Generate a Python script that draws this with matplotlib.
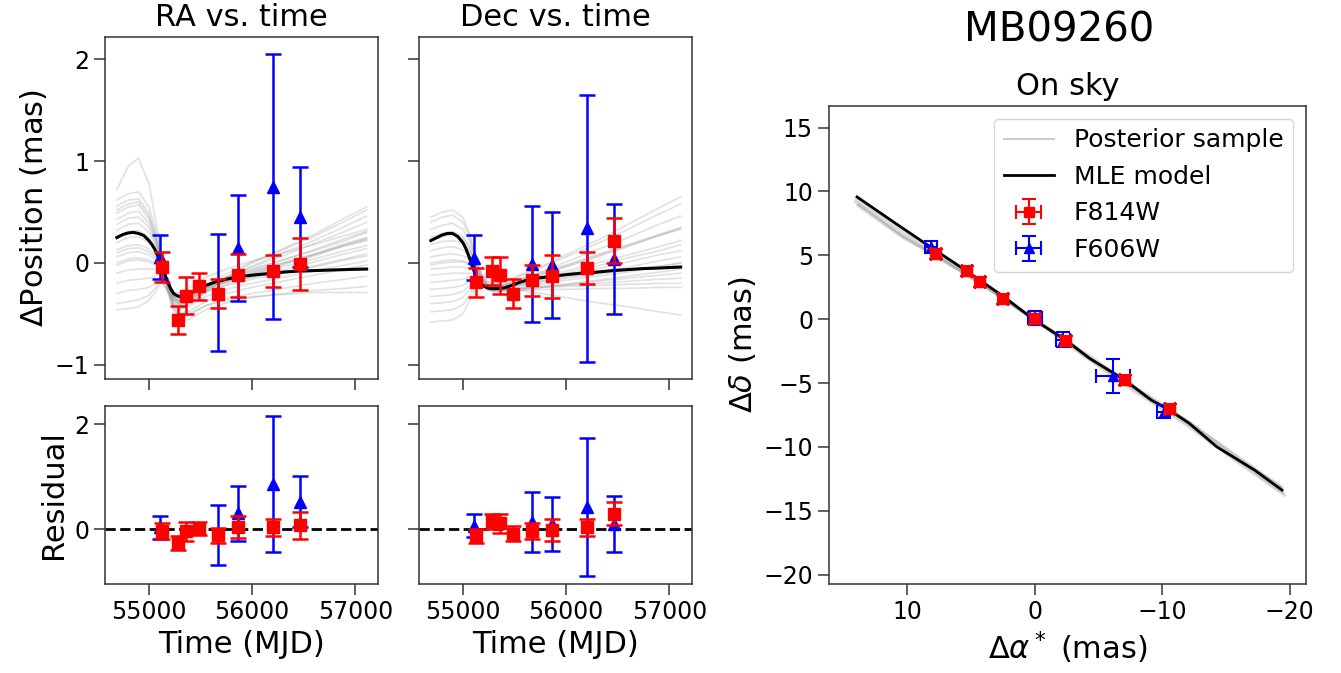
import matplotlib
matplotlib.use("Agg")
import matplotlib.pyplot as plt
from matplotlib.lines import Line2D

# ---------------- data ----------------
# epochs (MJD)
t_f814w = [55126, 55280, 55361, 55488, 55671, 55860, 56198, 56464]
t_f606w = [55105, 55671, 55860, 56198, 56464]

# RA offsets (mas) vs time
ra_f814w = [-0.04, -0.56, -0.32, -0.23, -0.30, -0.12, -0.08, -0.01]
ra_f814w_err = [0.15, 0.14, 0.18, 0.13, 0.14, 0.21, 0.155, 0.255]
ra_f606w = [0.06, -0.29, 0.15, 0.75, 0.45]
ra_f606w_err = [0.215, 0.57, 0.52, 1.30, 0.49]

# Dec offsets (mas) vs time
dec_f814w = [-0.19, -0.08, -0.12, -0.30, -0.17, -0.13, -0.05, 0.22]
dec_f814w_err = [0.14, 0.14, 0.18, 0.14, 0.15, 0.21, 0.155, 0.22]
dec_f606w = [0.05, -0.01, -0.02, 0.34, 0.04]
dec_f606w_err = [0.22, 0.57, 0.52, 1.31, 0.54]

# residuals (mas)
ra_res_f814w = [-0.04, -0.27, -0.04, 0.01, -0.12, 0.03, 0.03, 0.07]
ra_res_f606w = [0.03, -0.11, 0.30, 0.86, 0.52]
dec_res_f814w = [-0.13, 0.15, 0.11, -0.09, -0.04, -0.01, 0.03, 0.29]
dec_res_f606w = [0.06, 0.13, 0.10, 0.42, 0.10]

# MLE model curves vs time
t_model = [54690, 54750, 54800, 54850, 54900, 54950, 55000, 55030, 55060, 55090,
           55120, 55150, 55180, 55210, 55240, 55270, 55300, 55350, 55400, 55475,
           55550, 55650, 55750, 55875, 56000, 56150, 56300, 56450, 56600, 56750,
           56900, 57000, 57110]
ra_model = [0.25, 0.28, 0.295, 0.30, 0.29, 0.27, 0.22, 0.18, 0.13, 0.06,
            -0.01, -0.10, -0.18, -0.25, -0.30, -0.32, -0.33, -0.32, -0.30, -0.26,
            -0.22, -0.185, -0.16, -0.135, -0.12, -0.105, -0.09, -0.08, -0.075, -0.07,
            -0.065, -0.062, -0.06]
dec_model = [0.22, 0.25, 0.275, 0.29, 0.29, 0.26, 0.20, 0.14, 0.06, -0.03,
             -0.11, -0.17, -0.21, -0.23, -0.245, -0.25, -0.25, -0.25, -0.245, -0.22,
             -0.19, -0.16, -0.145, -0.13, -0.115, -0.10, -0.09, -0.075, -0.065, -0.055,
             -0.05, -0.045, -0.04]

# posterior samples vs time
t_samp = [54690, 54800, 54900, 55000, 55060, 55120, 55180, 55240, 55300, 55400,
          55550, 55750, 56000, 56300, 56600, 56900, 57110]
ra_samples = [
    [0.72, 0.95, 1.03, 0.78, 0.45, 0.08, -0.18, -0.28, -0.30, -0.24, -0.14, -0.06, 0.02, 0.10, 0.18, 0.27, 0.33],
    [0.62, 0.68, 0.70, 0.55, 0.35, 0.05, -0.24, -0.40, -0.44, -0.38, -0.26, -0.14, 0.00, 0.13, 0.26, 0.41, 0.52],
    [0.56, 0.62, 0.63, 0.49, 0.30, 0.03, -0.25, -0.42, -0.46, -0.40, -0.28, -0.16, -0.03, 0.10, 0.22, 0.36, 0.46],
    [0.49, 0.55, 0.57, 0.43, 0.26, 0.02, -0.22, -0.37, -0.41, -0.35, -0.24, -0.14, -0.04, 0.07, 0.19, 0.31, 0.40],
    [0.43, 0.49, 0.51, 0.39, 0.24, 0.02, -0.21, -0.35, -0.39, -0.33, -0.22, -0.11, 0.01, 0.14, 0.28, 0.44, 0.55],
    [0.38, 0.44, 0.45, 0.35, 0.21, 0.01, -0.20, -0.33, -0.37, -0.32, -0.23, -0.15, -0.07, 0.03, 0.13, 0.24, 0.31],
    [0.32, 0.38, 0.39, 0.30, 0.18, 0.00, -0.21, -0.35, -0.39, -0.34, -0.25, -0.17, -0.09, 0.00, 0.09, 0.19, 0.25],
    [0.26, 0.31, 0.32, 0.25, 0.15, 0.00, -0.18, -0.30, -0.34, -0.30, -0.22, -0.15, -0.08, 0.00, 0.08, 0.17, 0.22],
    [0.20, 0.25, 0.26, 0.20, 0.12, -0.01, -0.19, -0.33, -0.38, -0.34, -0.26, -0.18, -0.10, -0.01, 0.08, 0.18, 0.24],
    [0.13, 0.17, 0.18, 0.14, 0.08, -0.02, -0.18, -0.31, -0.36, -0.32, -0.24, -0.17, -0.11, -0.04, 0.04, 0.12, 0.17],
    [0.06, 0.10, 0.11, 0.08, 0.04, -0.03, -0.17, -0.29, -0.34, -0.31, -0.24, -0.19, -0.14, -0.09, -0.03, 0.04, 0.09],
    [-0.02, 0.02, 0.03, 0.01, -0.02, -0.06, -0.20, -0.35, -0.41, -0.38, -0.29, -0.21, -0.14, -0.07, 0.01, 0.09, 0.14],
    [-0.10, -0.07, -0.06, -0.06, -0.06, -0.08, -0.22, -0.38, -0.45, -0.42, -0.33, -0.26, -0.20, -0.14, -0.08, -0.02, 0.02],
    [-0.20, -0.17, -0.16, -0.15, -0.13, -0.11, -0.24, -0.42, -0.50, -0.47, -0.38, -0.30, -0.24, -0.18, -0.12, -0.06, -0.02],
    [-0.30, -0.27, -0.26, -0.24, -0.20, -0.14, -0.26, -0.45, -0.54, -0.51, -0.42, -0.35, -0.30, -0.25, -0.20, -0.16, -0.13],
    [-0.40, -0.38, -0.36, -0.32, -0.25, -0.16, -0.28, -0.48, -0.58, -0.55, -0.46, -0.39, -0.34, -0.30, -0.27, -0.25, -0.23],
    [-0.46, -0.45, -0.43, -0.37, -0.29, -0.18, -0.27, -0.44, -0.52, -0.49, -0.42, -0.37, -0.33, -0.31, -0.29, -0.29, -0.29],
    [0.10, 0.14, 0.15, 0.11, 0.06, -0.02, -0.17, -0.30, -0.35, -0.31, -0.22, -0.14, -0.06, 0.03, 0.12, 0.22, 0.30],
    [0.52, 0.58, 0.60, 0.46, 0.28, 0.03, -0.22, -0.37, -0.41, -0.36, -0.27, -0.19, -0.11, -0.02, 0.07, 0.17, 0.23],
    [0.00, 0.04, 0.05, 0.03, 0.00, -0.05, -0.19, -0.33, -0.38, -0.35, -0.28, -0.22, -0.16, -0.10, -0.04, 0.03, 0.07],
]
dec_samples = [
    [0.45, 0.50, 0.52, 0.45, 0.30, 0.08, -0.10, -0.18, -0.20, -0.18, -0.12, -0.04, 0.08, 0.22, 0.38, 0.54, 0.65],
    [0.40, 0.45, 0.47, 0.40, 0.27, 0.06, -0.11, -0.19, -0.21, -0.19, -0.13, -0.05, 0.06, 0.19, 0.33, 0.48, 0.58],
    [0.33, 0.37, 0.39, 0.33, 0.22, 0.03, -0.13, -0.21, -0.23, -0.21, -0.16, -0.09, 0.01, 0.13, 0.25, 0.38, 0.46],
    [0.25, 0.29, 0.31, 0.26, 0.17, 0.01, -0.14, -0.22, -0.24, -0.22, -0.18, -0.12, -0.04, 0.06, 0.16, 0.27, 0.34],
    [0.18, 0.21, 0.22, 0.19, 0.12, 0.00, -0.14, -0.21, -0.23, -0.21, -0.16, -0.10, -0.02, 0.08, 0.18, 0.28, 0.35],
    [0.12, 0.15, 0.16, 0.13, 0.08, -0.02, -0.15, -0.22, -0.24, -0.23, -0.19, -0.14, -0.08, 0.00, 0.08, 0.16, 0.22],
    [0.06, 0.08, 0.09, 0.07, 0.04, -0.04, -0.16, -0.23, -0.25, -0.24, -0.21, -0.17, -0.12, -0.06, 0.01, 0.08, 0.12],
    [0.00, 0.02, 0.03, 0.02, 0.00, -0.06, -0.17, -0.24, -0.26, -0.25, -0.22, -0.18, -0.14, -0.09, -0.04, 0.02, 0.06],
    [-0.06, -0.05, -0.04, -0.04, -0.05, -0.08, -0.18, -0.24, -0.26, -0.25, -0.21, -0.16, -0.10, -0.03, 0.05, 0.12, 0.18],
    [-0.12, -0.11, -0.10, -0.10, -0.10, -0.11, -0.19, -0.25, -0.27, -0.26, -0.24, -0.21, -0.17, -0.13, -0.09, -0.04, 0.00],
    [-0.19, -0.18, -0.17, -0.16, -0.14, -0.14, -0.20, -0.26, -0.28, -0.27, -0.25, -0.23, -0.21, -0.18, -0.15, -0.12, -0.10],
    [-0.26, -0.25, -0.24, -0.22, -0.18, -0.16, -0.21, -0.26, -0.28, -0.27, -0.26, -0.24, -0.22, -0.20, -0.18, -0.16, -0.15],
    [-0.33, -0.32, -0.31, -0.28, -0.23, -0.18, -0.22, -0.26, -0.27, -0.26, -0.25, -0.24, -0.23, -0.22, -0.21, -0.20, -0.20],
    [-0.40, -0.39, -0.38, -0.34, -0.27, -0.20, -0.22, -0.26, -0.27, -0.27, -0.27, -0.26, -0.26, -0.25, -0.25, -0.24, -0.24],
    [-0.48, -0.47, -0.46, -0.41, -0.32, -0.22, -0.23, -0.26, -0.27, -0.27, -0.26, -0.24, -0.21, -0.17, -0.13, -0.09, -0.06],
    [-0.58, -0.57, -0.56, -0.50, -0.38, -0.25, -0.23, -0.24, -0.24, -0.25, -0.27, -0.30, -0.34, -0.39, -0.43, -0.48, -0.51],
    [0.22, 0.26, 0.28, 0.24, 0.15, 0.00, -0.15, -0.22, -0.24, -0.22, -0.17, -0.11, -0.03, 0.07, 0.17, 0.27, 0.33],
    [-0.02, 0.00, 0.01, 0.01, -0.01, -0.06, -0.17, -0.24, -0.26, -0.25, -0.22, -0.19, -0.15, -0.11, -0.07, -0.03, 0.00],
]

# on-sky positions (mas)
sky_a_f814w = [7.75, 5.30, 4.31, 2.50, 0.0, -2.43, -7.08, -10.59]
sky_d_f814w = [5.09, 3.78, 2.92, 1.56, 0.0, -1.70, -4.77, -7.02]
sky_a_f814w_err = [0.4, 0.4, 0.4, 0.4, 0.4, 0.4, 0.4, 0.4]
sky_d_f814w_err = [0.4, 0.4, 0.4, 0.4, 0.4, 0.4, 0.4, 0.4]
sky_a_f606w = [8.15, 0.0, -2.21, -6.14, -10.10]
sky_d_f606w = [5.66, 0.13, -1.59, -4.46, -7.25]
sky_a_f606w_err = [0.45, 0.55, 0.55, 1.35, 0.5]
sky_d_f606w_err = [0.45, 0.55, 0.55, 1.33, 0.5]

sky_a_model = [13.95, 11.0, 8.2, 5.25, 2.42, 0.13, -2.43, -4.31, -6.99, -9.14, -10.49, -12.12, -14.27, -17.23, -19.39]
sky_d_model = [9.57, 7.55, 5.66, 3.70, 1.75, 0.0, -1.64, -3.08, -4.72, -6.34, -7.07, -8.16, -9.99, -11.81, -13.38]
sky_a_samples = [
    [14.1, 10.5, 7.5, 4.0, 0.1, -4.0, -8.0, -12.0, -16.0, -19.5],
    [13.9, 10.4, 7.6, 4.0, 0.1, -4.0, -8.0, -12.0, -16.0, -19.4],
    [14.0, 10.6, 7.7, 4.1, 0.0, -4.1, -8.1, -12.1, -16.1, -19.3],
    [13.8, 10.3, 7.4, 3.9, 0.0, -3.9, -7.9, -11.9, -15.9, -19.6],
]
sky_d_samples = [
    [9.2, 6.6, 4.9, 2.6, -0.05, -2.9, -5.6, -8.2, -11.1, -13.6],
    [8.9, 6.4, 4.85, 2.65, 0.0, -2.8, -5.5, -8.0, -10.8, -13.2],
    [9.4, 7.0, 5.1, 2.75, 0.05, -2.75, -5.45, -8.05, -11.0, -13.1],
    [9.0, 6.5, 4.7, 2.55, -0.05, -2.95, -5.7, -8.3, -11.2, -13.8],
]

# ---------------- styling ----------------
plt.rcParams["font.family"] = ["DejaVu Sans"]
TICK = 17
LAB = 22
SPC = "0.2"

fig = plt.figure(figsize=(13.41, 6.73), dpi=100)
W, H = 1341.0, 673.0


def add_ax(l, t, r, b):
    return fig.add_axes([l / W, 1 - b / H, (r - l) / W, (b - t) / H])


ax_ra = add_ax(105, 37, 378, 379)
ax_dec = add_ax(419, 37, 692, 379)
ax_rar = add_ax(105, 406, 378, 584)
ax_decr = add_ax(419, 406, 692, 584)
ax_sky = add_ax(829, 106, 1306, 584)

samp_kw = dict(color="0.55", alpha=0.26, lw=1.2, zorder=1)
eb606 = dict(fmt="^", color="blue", ms=8.5, elinewidth=1.8, capsize=6, capthick=1.8, zorder=3)
eb814 = dict(fmt="s", color="red", ms=8.5, elinewidth=1.8, capsize=6, capthick=1.8, zorder=4)


def style(ax):
    ax.tick_params(axis="both", direction="out", length=8, width=1.1,
                   labelsize=TICK, color=SPC)
    for s in ax.spines.values():
        s.set_color(SPC)
        s.set_linewidth(1.1)


# time panels
for ax, samples, model, d814, e814, d606, e606 in [
        (ax_ra, ra_samples, ra_model, ra_f814w, ra_f814w_err, ra_f606w, ra_f606w_err),
        (ax_dec, dec_samples, dec_model, dec_f814w, dec_f814w_err, dec_f606w, dec_f606w_err)]:
    for s in samples:
        ax.plot(t_samp, s, **samp_kw)
    ax.plot(t_model, model, color="black", lw=2.2, zorder=2)
    ax.errorbar(t_f606w, d606, yerr=e606, **eb606)
    ax.errorbar(t_f814w, d814, yerr=e814, **eb814)
    ax.set_xlim(54575, 57220)
    ax.set_ylim(-1.14, 2.22)
    ax.set_yticks([-1, 0, 1, 2])
    ax.set_xticks([55000, 56000, 57000])
    ax.set_xticklabels([])
    style(ax)

ax_dec.set_yticklabels([])
ax_ra.set_ylabel(r"$\Delta$Position (mas)", fontsize=LAB)
ax_ra.set_title("RA vs. time", fontsize=LAB, pad=8)
ax_dec.set_title("Dec vs. time", fontsize=LAB, pad=8)

# residual panels
for ax, r814, e814, r606, e606 in [
        (ax_rar, ra_res_f814w, ra_f814w_err, ra_res_f606w, ra_f606w_err),
        (ax_decr, dec_res_f814w, dec_f814w_err, dec_res_f606w, dec_f606w_err)]:
    ax.axhline(0, color="black", ls="--", lw=2, zorder=2)
    ax.errorbar(t_f606w, r606, yerr=e606, **eb606)
    ax.errorbar(t_f814w, r814, yerr=e814, **eb814)
    ax.set_xlim(54575, 57220)
    ax.set_ylim(-1.05, 2.35)
    ax.set_yticks([0, 2])
    ax.set_xticks([55000, 56000, 57000])
    ax.set_xlabel("Time (MJD)", fontsize=LAB, labelpad=4)
    style(ax)

ax_decr.set_yticklabels([])
ax_rar.set_ylabel("Residual", fontsize=LAB)

# on-sky panel
for sa, sd in zip(sky_a_samples, sky_d_samples):
    ax_sky.plot(sa, sd, color="0.6", alpha=0.35, lw=2.0, zorder=1)
ax_sky.plot(sky_a_model, sky_d_model, color="black", lw=2.0, zorder=2)
h606 = ax_sky.errorbar(sky_a_f606w, sky_d_f606w, xerr=sky_a_f606w_err, yerr=sky_d_f606w_err,
                       fmt="^", color="blue", ms=6.5, elinewidth=1.5, capsize=5, capthick=1.5, zorder=3)
h814 = ax_sky.errorbar(sky_a_f814w, sky_d_f814w, xerr=sky_a_f814w_err, yerr=sky_d_f814w_err,
                       fmt="s", color="red", ms=7, elinewidth=1.5, capsize=5, capthick=1.5, zorder=4)
ax_sky.set_xlim(16.15, -21.27)
ax_sky.set_ylim(-20.73, 16.69)
ax_sky.set_xticks([10, 0, -10, -20])
ax_sky.set_yticks([15, 10, 5, 0, -5, -10, -15, -20])
ax_sky.set_xlabel(r"$\Delta\alpha^*$ (mas)", fontsize=LAB)
ax_sky.set_ylabel(r"$\Delta\delta$ (mas)", fontsize=LAB)
ax_sky.set_title("On sky", fontsize=LAB, pad=8)
style(ax_sky)

hs = Line2D([], [], color="0.8", lw=1.5)
hm = Line2D([], [], color="black", lw=2.0)
ax_sky.legend([hs, hm, h814, h606], ["Posterior sample", "MLE model", "F814W", "F606W"],
              loc="upper right", fontsize=18, framealpha=0.8)

fig.text(0.79, 0.955, "MB09260", fontsize=29, ha="center", va="center")

fig.savefig("out.png", dpi=100)
